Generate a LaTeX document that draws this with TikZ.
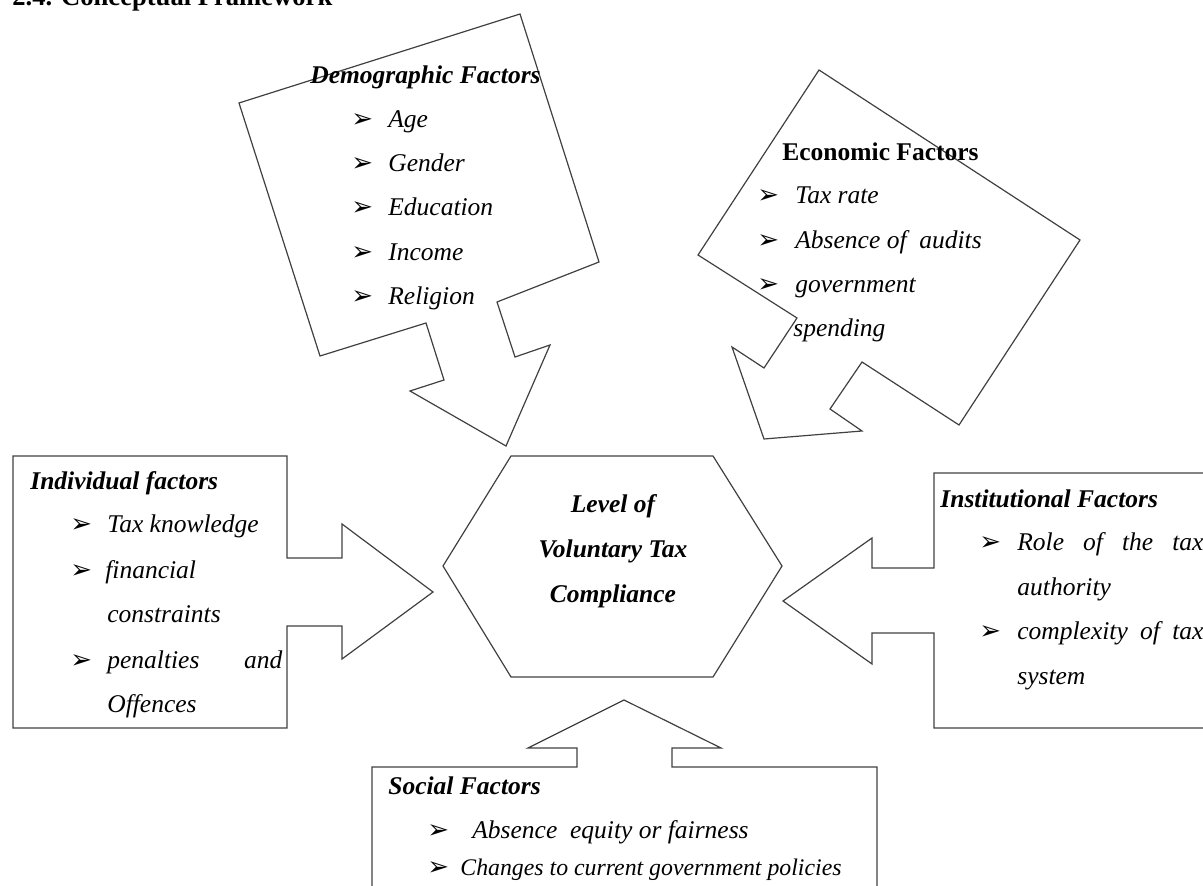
\documentclass[tikz,border=0pt]{standalone}
\usepackage{fontspec}
\setmainfont{Liberation Serif}
\newfontfamily\arrowbullet{DejaVu Sans}
\usepackage{tikz}
\usetikzlibrary{positioning}

\tikzset{
    callout/.style={draw=black!75, line width=0.6pt, line join=miter},
    head/.style={font=\fontsize{12.75}{22.5}\selectfont\bfseries\itshape, inner sep=0pt, anchor=base west},
    item/.style={font=\fontsize{12.75}{22.5}\selectfont\itshape, inner sep=0pt, anchor=base west},
    bul/.style={font=\fontsize{13}{15}\arrowbullet, inner sep=0pt, anchor=base west},
}

\begin{document}
\begin{tikzpicture}[x=0.5pt, y=-0.5pt]
    % Frame (1 unit = 1 px of the scan)
    \path[use as bounding box] (0,0) rectangle (1203,886);
    \clip (0,0) rectangle (1203,886);

    % Heading, cut by the top edge
    \node[font=\fontsize{13.3}{16}\selectfont\bfseries, inner sep=0pt, anchor=base west] (title) at (12,6) {2.4. Conceptual Framework};

    % Centre: hexagon
    \draw[callout] (511,456) -- (713,456) -- (782,566) -- (713,677) -- (511,677) -- (443,566) -- cycle;
    \node[head, anchor=center, align=center] (goal) at (613,551) {Level of\\Voluntary Tax\\Compliance};

    % Demographic factors (tilted callout, arrow down)
    \draw[callout] (239,103) -- (520,14) -- (599,262) -- (497,302) -- (515,357) -- (550,345)
        -- (506,446) -- (410,391) -- (444,380) -- (426,323) -- (320,356) -- cycle;
    \node[head] (demo) at (310,84) {Demographic Factors};
    \foreach \y/\l [count=\i] in {128/Age, 172/Gender, 216/Education, 261/Income, 305/Religion} {
        \node[bul] (demob\i) at (351,\y) {➢};
        \node[item] (demo\i) at (388,\y) {\l};
    }

    % Economic factors (tilted callout, arrow down-left)
    \draw[callout] (819,70) -- (1080,240) -- (959,425) -- (862,362) -- (830,409) -- (862,431)
        -- (764,439) -- (732,347) -- (764,368) -- (797,318) -- (698,255) -- cycle;
    \node[head, font=\fontsize{12.75}{15}\selectfont\bfseries] (econ) at (782,161) {Economic Factors};
    \foreach \y/\l [count=\i] in {204/Tax rate, 249/Absence of\ \ audits, 293/government} {
        \node[bul] (econb\i) at (757,\y) {➢};
        \node[item] (econ\i) at (795,\y) {\l};
    }
    \node[item] (econ4) at (793,337) {spending};

    % Individual factors (arrow right)
    \draw[callout] (13,456) -- (287,456) -- (287,558) -- (342,558) -- (342,524) -- (433,592)
        -- (342,659) -- (342,626) -- (287,626) -- (287,728) -- (13,728) -- cycle;
    \node[head] (indiv) at (30,490) {Individual factors};
    \foreach \y/\i in {533/1, 578/2, 668/3} {
        \node[bul] (indivb\i) at (70,\y) {➢};
    }
    \node[item] (indiv1) at (107,533) {Tax knowledge};
    \node[item] (indiv2) at (105,578) {financial};
    \node[item] (indiv3) at (107,622) {constraints};
    \node[item] (indiv4) at (107,668) {\makebox[87.5pt][s]{penalties and}};
    \node[item] (indiv5) at (107,712) {Offences};

    % Institutional factors (arrow left, box runs off the page)
    \draw[callout] (1215,473) -- (934,473) -- (934,568) -- (872,568) -- (872,538) -- (783,601)
        -- (872,664) -- (872,633) -- (934,633) -- (934,728) -- (1215,728) -- cycle;
    \node[head] (inst) at (940,508) {Institutional Factors};
    \foreach \y/\i in {551/1, 639/2} {
        \node[bul] (instb\i) at (979,\y) {➢};
    }
    \node[item] (inst1) at (1017,551) {\makebox[93pt][s]{Role of the tax}};
    \node[item] (inst2) at (1017,596) {authority};
    \node[item] (inst3) at (1017,639) {\makebox[93pt][s]{complexity of tax}};
    \node[item] (inst4) at (1017,684) {system};

    % Social factors (arrow up, box runs off the page)
    \draw[callout] (372,900) -- (372,767) -- (577,767) -- (577,748) -- (528,748) -- (624,700)
        -- (721,748) -- (672,748) -- (672,767) -- (877,767) -- (877,900);
    \node[head] (soc) at (388,794) {Social Factors};
    \foreach \y/\i in {838/1, 875/2} {
        \node[bul] (socb\i) at (427,\y) {➢};
    }
    \node[item] (soc1) at (472,838) {Absence\ \ equity or fairness};
    \node[item, font=\fontsize{11.9}{15}\selectfont\itshape] (soc2) at (460,875) {Changes to current government policies};
\end{tikzpicture}
\end{document}
